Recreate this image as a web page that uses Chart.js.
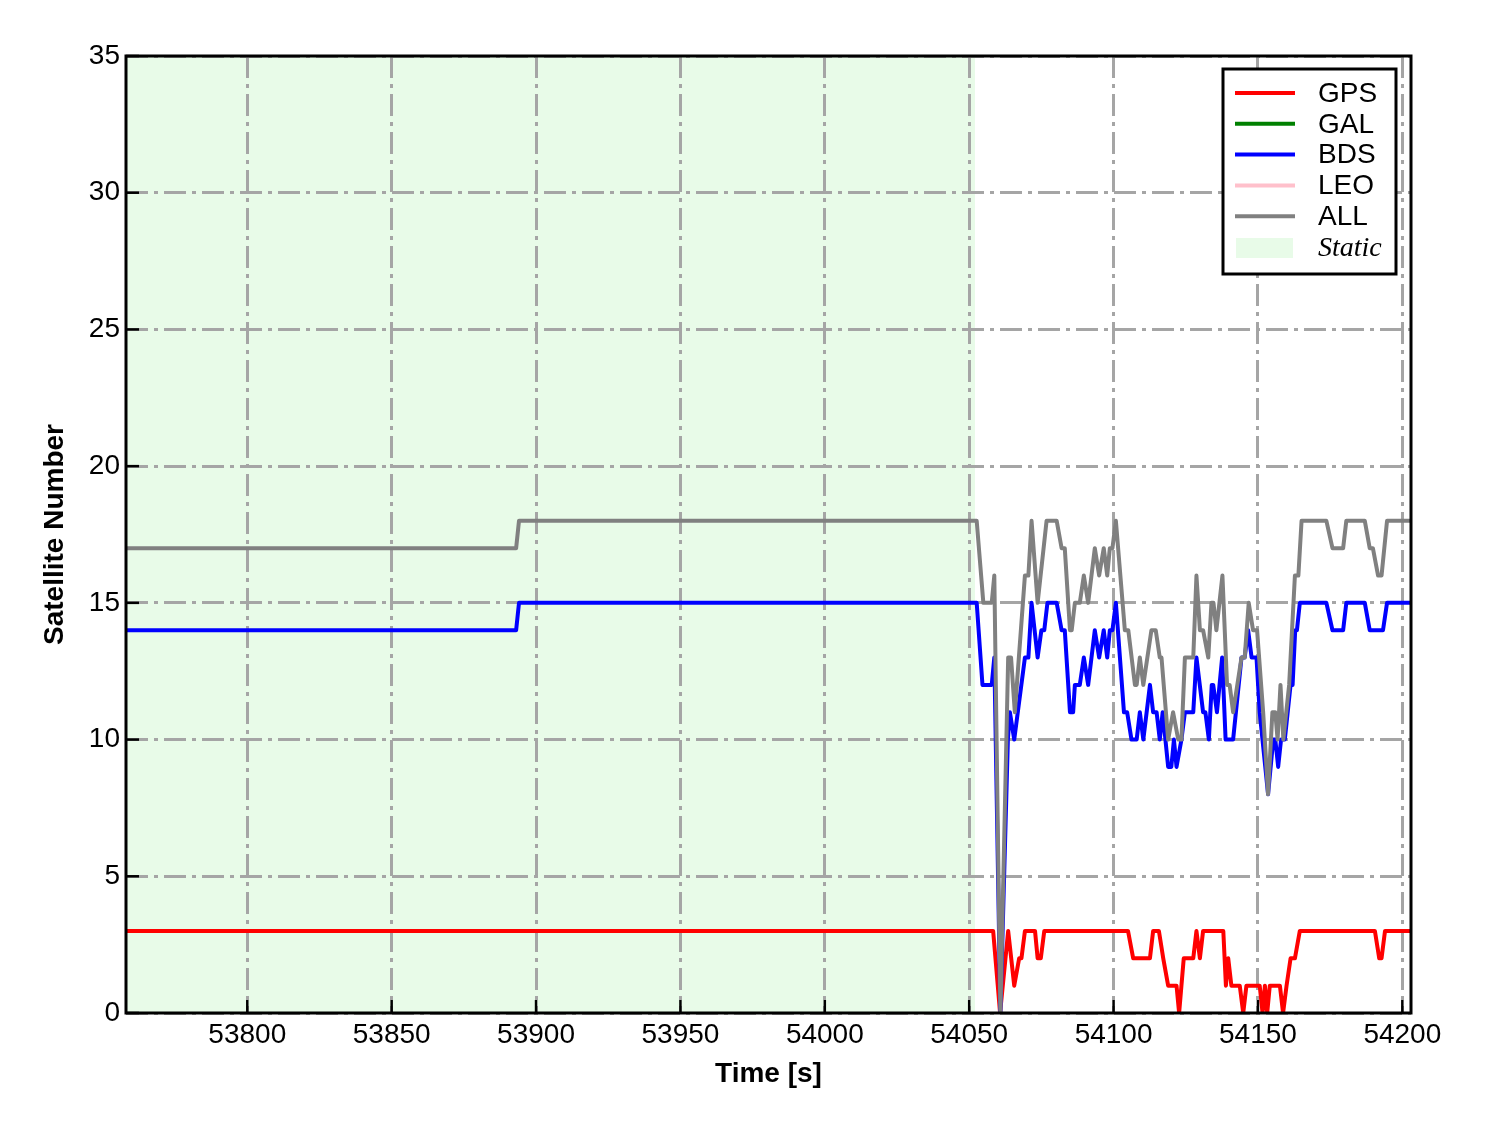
<!DOCTYPE html>
<html>
<head>
<meta charset="utf-8">
<script src="https://cdn.jsdelivr.net/npm/chart.js@4.4.0/dist/chart.umd.min.js"></script>
<style>
  html, body { margin: 0; padding: 0; background: #fff; }
</style>
</head>
<body>
<canvas id="satChart" width="1488" height="1133"></canvas>
<script>
///////////////////////// data /////////////////////////
// time [s] of the change points and satellite count at each of them
var xTicks = [53800, 53850, 53900, 53950, 54000, 54050, 54100, 54150, 54200];
var yTicks = [0, 5, 10, 15, 20, 25, 30, 35];
var staticSpan = [53758, 54052];

var gpsT = [53758, 54058.3, 54060.7, 54063.5, 54065.6, 54067.3, 54068.1, 54069.3, 54072.8, 54073.7,
            54074.8, 54076, 54105, 54106.8, 54112.6, 54113.7, 54115.7, 54117.2, 54118.9, 54121.8,
            54122.7, 54124.3, 54127.6, 54128.7, 54129.9, 54131, 54138, 54138.9, 54139.7, 54140.8,
            54143.7, 54144.9, 54146, 54150.6, 54151.6, 54152.4, 54153.2, 54154.1, 54157.6, 54158.7,
            54159.9, 54161.3, 54162.8, 54164.5, 54190.5, 54192, 54192.8, 54194, 54203];
var gpsV = [3, 3, 0, 3, 1, 2, 2, 3, 3, 2,
            2, 3, 3, 2, 2, 3, 3, 2, 1, 1,
            0, 2, 2, 3, 2, 3, 3, 1, 2, 1,
            1, 0, 1, 1, 0, 1, 0, 1, 1, 0,
            1, 2, 2, 3, 3, 2, 2, 3, 3];

var galT = [];
var galV = [];
var leoT = [];
var leoV = [];

var bdsT = [53758, 53893.1, 53894.1, 54052.6, 54054.6, 54057.8, 54058.7, 54060.8, 54063.4, 54064.1,
            54065.6, 54069.3, 54070.5, 54071.6, 54073.7, 54075, 54076, 54077.1, 54080.3, 54082,
            54083.1, 54084.9, 54086, 54086.6, 54088.3, 54089.7, 54091.2, 54093.5, 54095, 54096.6,
            54097.8, 54098.7, 54099.6, 54100.8, 54103.6, 54104.7, 54106.2, 54108, 54109.1, 54110.3,
            54112.6, 54113.7, 54114.9, 54116, 54117, 54118.9, 54120, 54120.9, 54121.8, 54123.5,
            54124.7, 54127.6, 54128.7, 54131, 54131.8, 54133, 54134, 54134.5, 54135.8, 54137.6,
            54138.8, 54141.4, 54144.3, 54145.4, 54146.6, 54147.8, 54149.5, 54150.6, 54153.5, 54155.3,
            54156, 54157, 54158, 54159.3, 54161.3, 54162, 54162.9, 54163.5, 54164.5, 54173.7,
            54175.8, 54179.5, 54180.6, 54187, 54188.7, 54193.3, 54194.7, 54203];
var bdsV = [14, 14, 15, 15, 12, 12, 13, 0, 10, 11,
            10, 13, 13, 15, 13, 14, 14, 15, 15, 14,
            14, 11, 11, 12, 12, 13, 12, 14, 13, 14,
            13, 14, 14, 15, 11, 11, 10, 10, 11, 10,
            12, 11, 11, 10, 11, 9, 9, 10, 9, 10,
            11, 11, 13, 11, 11, 10, 12, 12, 11, 13,
            10, 10, 13, 13, 14, 13, 13, 11, 8, 10,
            10, 9, 10, 10, 12, 12, 14, 14, 15, 15,
            14, 14, 15, 15, 14, 14, 15, 15];

var allT = [53758, 53893.1, 53894.1, 54052.6, 54054.9, 54057.8, 54058.7, 54060.8, 54063.5, 54064.5,
            54065.8, 54069.3, 54070.5, 54071.6, 54073.7, 54076.8, 54080.3, 54082, 54083.1, 54084.9,
            54085.5, 54086.6, 54088.3, 54089.7, 54091.2, 54093.5, 54095, 54096.6, 54097.8, 54098.7,
            54099.6, 54100.8, 54103.9, 54105.1, 54107.4, 54108, 54109.1, 54110.3, 54113.1, 54114.6,
            54116, 54116.6, 54118.9, 54120.6, 54122.4, 54123.5, 54124.7, 54127.6, 54128.7, 54129.9,
            54131, 54132.8, 54133.9, 54134.6, 54135.6, 54137.7, 54139.3, 54140.2, 54141.4, 54144.3,
            54145.4, 54146.8, 54148.3, 54149.7, 54151.8, 54153.5, 54155, 54156, 54156.8, 54157.8,
            54158.8, 54160.8, 54162.8, 54164, 54165.1, 54173.7, 54175.8, 54179.5, 54180.6, 54187,
            54188.7, 54189.8, 54191.6, 54192.8, 54194.7, 54203];
var allV = [17, 17, 18, 18, 15, 15, 16, 0, 13, 13,
            11, 16, 16, 18, 15, 18, 18, 17, 17, 14,
            14, 15, 15, 16, 15, 17, 16, 17, 16, 17,
            17, 18, 14, 14, 12, 12, 13, 12, 14, 14,
            13, 13, 10, 11, 10, 10, 13, 13, 16, 14,
            14, 13, 15, 15, 14, 16, 12, 12, 11, 13,
            13, 15, 14, 14, 11, 8, 11, 11, 10, 12,
            10, 12, 16, 16, 18, 18, 17, 17, 18, 18,
            17, 17, 16, 16, 18, 18];

var staticColor = 'rgb(232, 251, 232)';
var gridColor = 'rgb(165, 165, 165)';
var gridDash = [22, 6, 4, 6];
var lineW = 4;
var sans = '"Liberation Sans", Arial, sans-serif';

function toPoints(ts, vs) {
  return ts.map(function (t, i) { return { x: t, y: vs[i] }; });
}

///////////////////////// plugins /////////////////////////
// green "Static" period, painted before the grid
const staticBand = {
  id: 'staticBand',
  beforeDraw: function (chart) {
    const ctx = chart.ctx;
    const a = chart.chartArea;
    const x0 = chart.scales.x.getPixelForValue(staticSpan[0]);
    const x1 = chart.scales.x.getPixelForValue(staticSpan[1]);
    ctx.save();
    ctx.fillStyle = staticColor;
    ctx.fillRect(x0, a.top, x1 - x0, a.bottom - a.top);
    ctx.restore();
  }
};

// frame, inward ticks and the boxed legend
const frameAndLegend = {
  id: 'frameAndLegend',
  afterDraw: function (chart) {
    const ctx = chart.ctx;
    const a = chart.chartArea;
    const xs = chart.scales.x, ys = chart.scales.y;
    ctx.save();
    ctx.strokeStyle = '#000';
    ctx.lineWidth = 2.5;
    xTicks.forEach(function (v) {
      const px = xs.getPixelForValue(v);
      ctx.beginPath(); ctx.moveTo(px, a.bottom); ctx.lineTo(px, a.bottom - 13); ctx.stroke();
    });
    yTicks.forEach(function (v) {
      const py = ys.getPixelForValue(v);
      ctx.beginPath(); ctx.moveTo(a.left, py); ctx.lineTo(a.left + 13, py); ctx.stroke();
    });
    ctx.lineWidth = 3;
    ctx.strokeRect(a.left, a.top, a.right - a.left, a.bottom - a.top);

    // legend
    const bx = 1223, by = 69, bw = 173, bh = 205;
    ctx.fillStyle = '#fff';
    ctx.fillRect(bx, by, bw, bh);
    ctx.strokeRect(bx, by, bw, bh);
    ctx.textBaseline = 'middle';
    ctx.textAlign = 'left';
    ctx.font = '28px ' + sans;
    chart.data.datasets.forEach(function (ds, i) {
      const y = 93 + i * 30.8;
      ctx.strokeStyle = ds.borderColor;
      ctx.lineWidth = 4;
      ctx.beginPath(); ctx.moveTo(1235, y); ctx.lineTo(1295, y); ctx.stroke();
      ctx.fillStyle = '#000';
      ctx.fillText(ds.label, 1318, y + 1);
    });
    ctx.fillStyle = staticColor;
    ctx.fillRect(1236, 238, 57, 20);
    ctx.fillStyle = '#000';
    ctx.font = 'italic 28px "Liberation Serif", "Times New Roman", serif';
    ctx.fillText('Static', 1318, 249);
    ctx.restore();
  }
};

///////////////////////// chart /////////////////////////
const satChart = new Chart(document.getElementById('satChart'), {
  type: 'line',
  data: {
    datasets: [
      { label: 'GPS', data: toPoints(gpsT, gpsV), borderColor: '#ff0000', borderWidth: lineW, order: 4 },
      { label: 'GAL', data: toPoints(galT, galV), borderColor: '#008000', borderWidth: lineW, order: 3 },
      { label: 'BDS', data: toPoints(bdsT, bdsV), borderColor: '#0000ff', borderWidth: lineW, order: 2 },
      { label: 'LEO', data: toPoints(leoT, leoV), borderColor: '#ffc0cb', borderWidth: lineW, order: 1 },
      { label: 'ALL', data: toPoints(allT, allV), borderColor: '#808080', borderWidth: lineW, order: 0 }
    ]
  },
  options: {
    responsive: false,
    animation: false,
    layout: { padding: { top: 56, right: 77, left: 0, bottom: 0 } },
    elements: {
      point: { radius: 0 },
      line: { tension: 0, borderJoinStyle: 'round', fill: false }
    },
    plugins: {
      legend: { display: false },
      tooltip: { enabled: false }
    },
    scales: {
      x: {
        type: 'linear',
        min: 53758,
        max: 54203,
        afterBuildTicks: function (scale) {
          scale.ticks = xTicks.map(function (v) { return { value: v }; });
        },
        afterFit: function (scale) { scale.height = 120; },
        grid: { color: gridColor, lineWidth: 3, drawTicks: false },
        border: { display: false, dash: gridDash },
        ticks: {
          color: '#000',
          padding: 5,
          maxRotation: 0,
          font: { family: sans, size: 28 },
          callback: function (v) { return String(v); }
        },
        title: {
          display: true,
          text: 'Time [s]',
          color: '#000',
          padding: { top: 0, bottom: 42 },
          font: { family: sans, size: 28, weight: 'bold' }
        }
      },
      y: {
        min: 0,
        max: 35,
        afterBuildTicks: function (scale) {
          scale.ticks = yTicks.map(function (v) { return { value: v }; });
        },
        afterFit: function (scale) { scale.width = 126; },
        grid: { color: gridColor, lineWidth: 3, drawTicks: false },
        border: { display: false, dash: gridDash },
        ticks: {
          color: '#000',
          padding: 6,
          font: { family: sans, size: 28 }
        },
        title: {
          display: true,
          text: 'Satellite Number',
          color: '#000',
          padding: { top: 38, bottom: 0 },
          font: { family: sans, size: 28, weight: 'bold' }
        }
      }
    }
  },
  plugins: [staticBand, frameAndLegend]
});
</script>
</body>
</html>
